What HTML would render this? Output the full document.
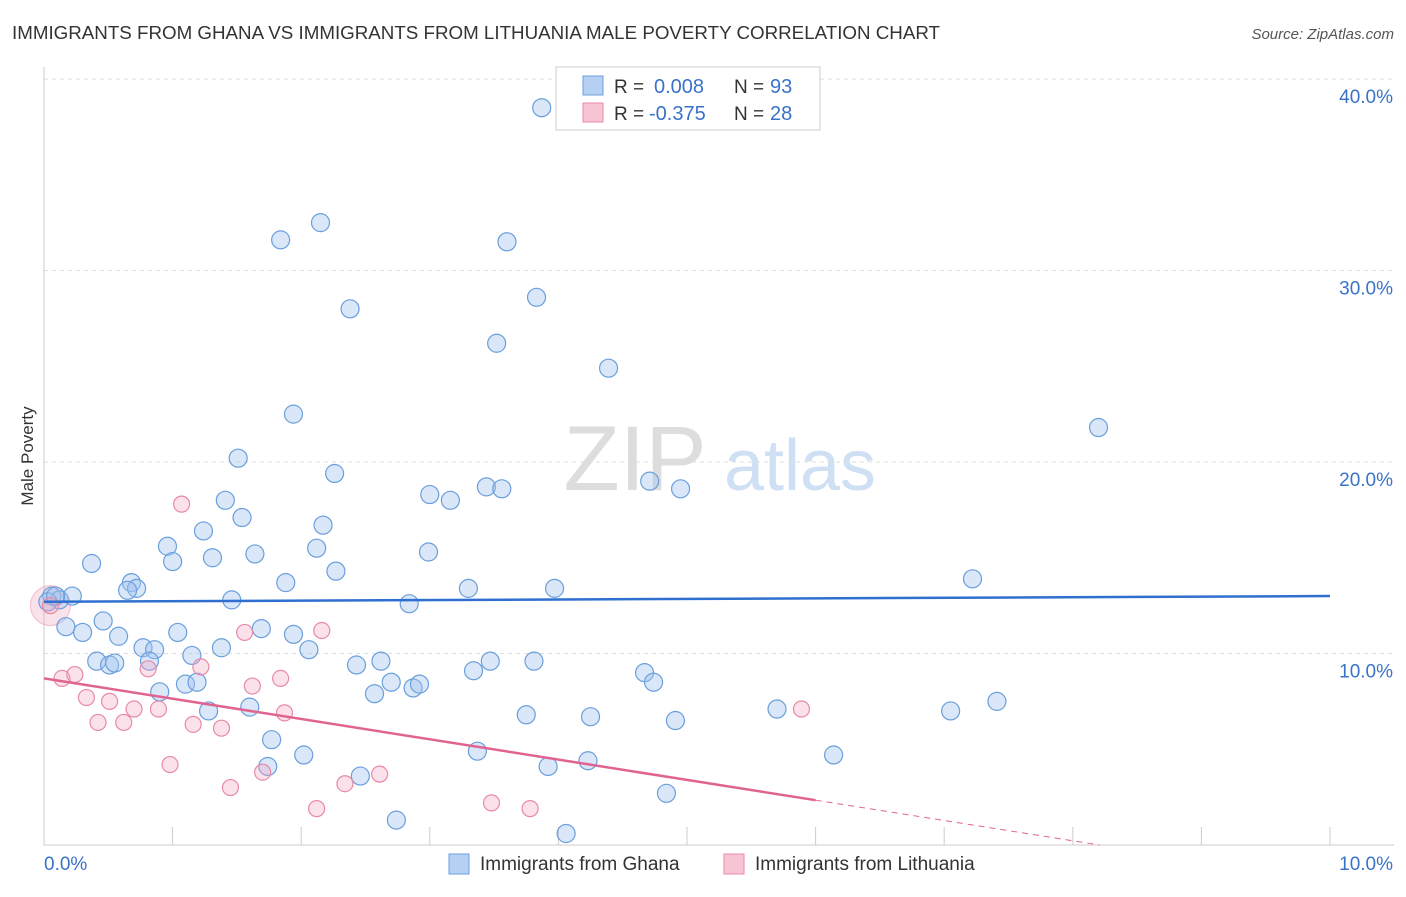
<!DOCTYPE html>
<html><head><meta charset="utf-8"><style>
body{margin:0;background:#fff;font-family:"Liberation Sans",sans-serif;}
svg text{font-family:"Liberation Sans",sans-serif;}
</style></head><body>
<svg id="chart" width="1406" height="892">
<text x="12" y="39" font-size="18" fill="#333" textLength="928" lengthAdjust="spacingAndGlyphs">IMMIGRANTS FROM GHANA VS IMMIGRANTS FROM LITHUANIA MALE POVERTY CORRELATION CHART</text>
<text x="1394" y="39" font-size="15" fill="#555" font-style="italic" text-anchor="end">Source: ZipAtlas.com</text>
<text x="33" y="456" font-size="17" fill="#333" text-anchor="middle" transform="rotate(-90 33 456)">Male Poverty</text>
<g>
<text x="635" y="490" font-size="92" fill="#ddd" font-family="Liberation Serif" text-anchor="middle">ZIP</text>
<text x="800" y="490" font-size="72" fill="#cfe0f4" text-anchor="middle">atlas</text>
</g>
<g id="grid"></g><g id="axes"></g><g id="pts"></g><g id="trend"></g>
<g>
<rect x="556" y="67" width="264" height="63" fill="#fff" stroke="#ccc"/>
<rect x="583" y="76" width="20" height="19" fill="#b5d0f3" stroke="#6a9fdc"/>
<rect x="583" y="103" width="20" height="19" fill="#f8c5d5" stroke="#e88aa8"/>
<text x="614" y="93" font-size="19" fill="#333">R =</text>
<text x="654" y="93" font-size="20" fill="#3a72c8">0.008</text>
<text x="734" y="93" font-size="19" fill="#333">N =</text>
<text x="770" y="93" font-size="20" fill="#3a72c8">93</text>
<text x="614" y="120" font-size="19" fill="#333">R =</text>
<text x="649" y="120" font-size="20" fill="#3a72c8">-0.375</text>
<text x="734" y="120" font-size="19" fill="#333">N =</text>
<text x="770" y="120" font-size="20" fill="#3a72c8">28</text>
</g>
<g>
<rect x="449" y="854" width="20" height="20" fill="#b5d0f3" stroke="#6a9fdc"/>
<text x="480" y="870" font-size="19" fill="#333">Immigrants from Ghana</text>
<rect x="724" y="854" width="20" height="20" fill="#f8c5d5" stroke="#e88aa8"/>
<text x="755" y="870" font-size="19" fill="#333">Immigrants from Lithuania</text>
</g>
</svg>
<script>
const yTicks=[10,20,30,40];
const yTickLabels=["10.0%","20.0%","30.0%","40.0%"];
const xEndLabels=["0.0%","10.0%"];
const ghanaX=[3.87,1.84,2.15,3.60,3.83,2.38,3.52,4.39,8.20,1.94,1.51,2.26,3.00,3.16,3.44,3.56,4.71,4.95,1.41,1.54,2.17,1.24,0.96,1.00,0.37,1.31,1.64,2.12,2.99,2.27,0.68,0.72,0.65,1.88,3.30,3.97,7.22,1.46,2.84,0.06,0.12,0.22,0.03,0.09,0.17,0.46,0.30,0.58,1.04,1.69,1.94,2.06,0.77,0.86,1.38,1.15,0.41,0.51,0.55,0.82,2.43,2.62,3.34,3.47,3.81,4.67,4.74,1.10,1.19,0.90,2.70,2.87,2.92,2.57,1.28,1.60,3.75,4.25,4.91,5.70,7.05,7.41,1.77,2.02,3.37,6.14,1.74,3.92,4.23,2.46,4.84,2.74,4.06];
const ghanaY=[38.5,31.6,32.5,31.5,28.6,28.0,26.2,24.9,21.8,22.5,20.2,19.4,18.3,18.0,18.7,18.6,19.0,18.6,18.0,17.1,16.7,16.4,15.6,14.8,14.7,15.0,15.2,15.5,15.3,14.3,13.7,13.4,13.3,13.7,13.4,13.4,13.9,12.8,12.6,13.0,12.8,13.0,12.7,13.0,11.4,11.7,11.1,10.9,11.1,11.3,11.0,10.2,10.3,10.2,10.3,9.9,9.6,9.4,9.5,9.6,9.4,9.6,9.1,9.6,9.6,9.0,8.5,8.4,8.5,8.0,8.5,8.2,8.4,7.9,7.0,7.2,6.8,6.7,6.5,7.1,7.0,7.5,5.5,4.7,4.9,4.7,4.1,4.1,4.4,3.6,2.7,1.3,0.6];
const lithX=[1.07,0.05,1.56,2.16,0.14,0.24,1.22,0.81,0.33,0.51,1.62,1.84,0.42,0.62,0.70,0.89,1.16,1.38,1.87,5.89,0.98,1.70,2.61,1.45,2.34,2.12,3.48,3.78];
const lithY=[17.8,12.5,11.1,11.2,8.7,8.9,9.3,9.2,7.7,7.5,8.3,8.7,6.4,6.4,7.1,7.1,6.3,6.1,6.9,7.1,4.2,3.8,3.7,3.0,3.2,1.9,2.2,1.9];
const ghanaTrend=[12.7,13.0];
const lithTrend=[8.7,-1.06];
const NS="http://www.w3.org/2000/svg";
const X=v=>44+v*128.6, Y=v=>845-v*19.15;
function mk(tag,attrs,parent){const e=document.createElementNS(NS,tag);for(const k in attrs)e.setAttribute(k,attrs[k]);document.getElementById(parent).appendChild(e);return e;}
yTicks.forEach((t,i)=>{
 const g=mk('line',{x1:44,x2:1394,y1:Y(t),y2:Y(t),stroke:'#ddd','stroke-dasharray':'4,4'},'grid');
 
 
 const l=mk('text',{x:1393,y:Y(t)+24,'font-size':19,fill:'#3a72c8','text-anchor':'end'},'axes');
 l.textContent=yTickLabels[i];
 
 
});
mk('line',{x1:44,x2:44,y1:67,y2:845,stroke:'#ccc'},'axes');
mk('line',{x1:44,x2:1394,y1:845,y2:845,stroke:'#ccc'},'axes');
for(let i=0;i<=10;i++){const t=mk('line',{x1:X(i),x2:X(i),y1:827,y2:845,stroke:'#ccc'},'axes');
 
 }
xEndLabels.forEach((s,i)=>{const l=mk('text',{x:i?1393:44,y:870,'font-size':19,fill:'#3a72c8','text-anchor':i?'end':'start'},'axes');l.textContent=s;
 
 });
const bl=mk('circle',{cx:X(0.05),cy:Y(12.5),r:20,fill:'rgba(240,160,185,0.3)',stroke:'rgba(232,138,168,0.5)'},'pts');
ghanaX.forEach((x,i)=>{const c=mk('circle',{cx:X(x),cy:Y(ghanaY[i]),r:9,fill:'rgba(160,196,240,0.4)',stroke:'#6a9fdc','stroke-width':1.2},'pts');
 
 });
lithX.forEach((x,i)=>{const c=mk('circle',{cx:X(x),cy:Y(lithY[i]),r:8,fill:'rgba(244,170,195,0.35)',stroke:'#e88aa8','stroke-width':1.2},'pts');
 
 });
const t1=mk('line',{x1:X(0),y1:Y(ghanaTrend[0]),x2:X(10),y2:Y(ghanaTrend[1]),stroke:'#2f6fd0','stroke-width':2.5},'trend');


const lf=x=>lithTrend[0]+lithTrend[1]*x;
const t2=mk('line',{x1:X(0),y1:Y(lf(0)),x2:X(6),y2:Y(lf(6)),stroke:'#e0648f','stroke-width':2.5},'trend');


const xe=-lithTrend[0]/lithTrend[1];
const t3=mk('line',{x1:X(6),y1:Y(lf(6)),x2:X(xe),y2:Y(0),stroke:'#e0648f','stroke-width':1,'stroke-dasharray':'6,5'},'trend');


</script>
</body></html>
